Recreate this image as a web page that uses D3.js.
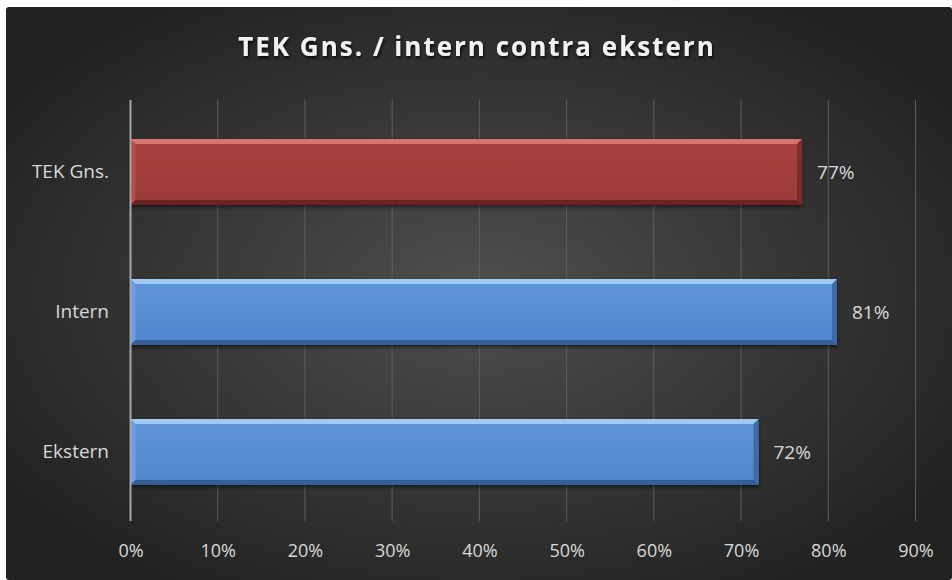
<!DOCTYPE html>
<html>
<head>
<meta charset="utf-8">
<script src="https://cdn.jsdelivr.net/npm/d3@7"></script>
<style>
  html, body { margin: 0; padding: 0; background: #fff; }
  svg { display: block; }
</style>
</head>
<body>
<div id="chart"></div>
<script>
// data
var categories = ["TEK Gns.", "Intern", "Ekstern"];
var values = [0.77, 0.81, 0.72];
var barKinds = ["red", "blue", "blue"];
var tickValues = [0, 0.1, 0.2, 0.3, 0.4, 0.5, 0.6, 0.7, 0.8, 0.9];
var title = "TEK Gns. / intern contra ekstern";

var W = 952, H = 580;
var font = "'Open Sans', 'Noto Sans', sans-serif";

var palette = {
  red:  { faceTop: "#a84241", faceBot: "#9b3a39", top: "#d47470", left: "#b34e4d", right: "#7c2b2a", bottom: "#6d2423" },
  blue: { faceTop: "#6196d8", faceBot: "#4f86cc", top: "#a2c8f4", left: "#6e9fdc", right: "#3e6ba8", bottom: "#345d96" }
};

var svg = d3.select("#chart").append("svg")
  .attr("width", W).attr("height", H);

var defs = svg.append("defs");
var bg = defs.append("radialGradient").attr("id", "bg")
  .attr("cx", "50%").attr("cy", "50%").attr("r", "60%");
bg.append("stop").attr("offset", "0%").attr("stop-color", "#4f4f4f");
bg.append("stop").attr("offset", "100%").attr("stop-color", "#222");

Object.keys(palette).forEach(function(k) {
  var lg = defs.append("linearGradient").attr("id", "face-" + k)
    .attr("x1", 0).attr("y1", 0).attr("x2", 0).attr("y2", 1);
  lg.append("stop").attr("offset", "0%").attr("stop-color", palette[k].faceTop);
  lg.append("stop").attr("offset", "100%").attr("stop-color", palette[k].faceBot);
});

var sh = defs.append("filter").attr("id", "shadow")
  .attr("x", "-10%").attr("y", "-30%").attr("width", "120%").attr("height", "160%");
sh.append("feDropShadow").attr("dx", 1).attr("dy", 2).attr("stdDeviation", 1.5)
  .attr("flood-color", "#000").attr("flood-opacity", 0.8);

var barSh = defs.append("filter").attr("id", "barshadow")
  .attr("x", "-5%").attr("y", "-20%").attr("width", "110%").attr("height", "140%");
barSh.append("feDropShadow").attr("dx", 0).attr("dy", 2).attr("stdDeviation", 2)
  .attr("flood-color", "#000").attr("flood-opacity", 0.6);

// background panel
svg.append("rect")
  .attr("x", 6).attr("y", 7).attr("width", W - 6).attr("height", H - 7)
  .attr("rx", 3)
  .attr("fill", "url(#bg)");

// title
svg.append("text")
  .attr("x", 477).attr("y", 56)
  .attr("text-anchor", "middle")
  .attr("fill", "#f2f2f2")
  .attr("font-family", font)
  .attr("font-weight", "bold")
  .attr("font-size", 26)
  .attr("letter-spacing", 2)
  .attr("filter", "url(#shadow)")
  .text(title);

// scales
var x = d3.scaleLinear().domain([0, 0.9]).range([130.5, 915.5]);
var y = d3.scaleBand().domain(categories).range([102, 522]).paddingInner(0.53).paddingOuter(0.265);

// gridlines
svg.append("g")
  .selectAll("line")
  .data(tickValues.slice(1))
  .enter().append("line")
    .attr("x1", function(d) { return x(d); })
    .attr("x2", function(d) { return x(d); })
    .attr("y1", 100).attr("y2", 521)
    .attr("stroke", "#5e5e5e")
    .attr("stroke-width", 1);

// x axis labels
var xAxis = d3.axisBottom(x)
  .tickValues(tickValues)
  .tickSize(0)
  .tickPadding(0)
  .tickFormat(d3.format(".0%"));

var ax = svg.append("g")
  .attr("transform", "translate(0,544)")
  .call(xAxis);
ax.select(".domain").remove();
ax.selectAll("text")
  .attr("fill", "#d9d9d9")
  .attr("font-family", font)
  .attr("font-size", 18)
  .attr("dy", "0.7em");

// y axis labels
var yAxis = d3.axisLeft(y).tickSize(0).tickPadding(0);
var ay = svg.append("g")
  .attr("transform", "translate(109,0)")
  .call(yAxis);
ay.select(".domain").remove();
ay.selectAll("text")
  .attr("fill", "#d9d9d9")
  .attr("font-family", font)
  .attr("font-size", 19);

// bars with bevel
var bev = 5;
var bars = svg.append("g").selectAll("g.bar")
  .data(categories)
  .enter().append("g")
    .attr("class", "bar")
    .attr("filter", "url(#barshadow)");

bars.each(function(c, i) {
  var g = d3.select(this);
  var k = barKinds[i];
  var p = palette[k];
  var x0 = x(0), x1 = x(values[i]);
  var y0 = y(c), y1 = y(c) + y.bandwidth();
  g.append("rect")
    .attr("x", x0).attr("y", y0)
    .attr("width", x1 - x0).attr("height", y1 - y0)
    .attr("fill", "url(#face-" + k + ")");
  var pts = function(a) { return a.map(function(q) { return q.join(","); }).join(" "); };
  g.append("polygon").attr("fill", p.top)
    .attr("points", pts([[x0, y0], [x1, y0], [x1 - bev, y0 + bev], [x0 + bev, y0 + bev]]));
  g.append("polygon").attr("fill", p.left)
    .attr("points", pts([[x0, y0], [x0 + bev, y0 + bev], [x0 + bev, y1 - bev], [x0, y1]]));
  g.append("polygon").attr("fill", p.right)
    .attr("points", pts([[x1, y0], [x1, y1], [x1 - bev, y1 - bev], [x1 - bev, y0 + bev]]));
  g.append("polygon").attr("fill", p.bottom)
    .attr("points", pts([[x0, y1], [x0 + bev, y1 - bev], [x1 - bev, y1 - bev], [x1, y1]]));
});

// zero axis line
svg.append("line")
  .attr("x1", x(0)).attr("x2", x(0))
  .attr("y1", 100).attr("y2", 521)
  .attr("stroke", "#a6a6a6")
  .attr("stroke-width", 2);

// value labels
svg.append("g").selectAll("text")
  .data(categories)
  .enter().append("text")
    .attr("x", function(d, i) { return x(values[i]) + 15; })
    .attr("y", function(d) { return y(d) + y.bandwidth() / 2; })
    .attr("dy", "0.35em")
    .attr("fill", "#d9d9d9")
    .attr("font-family", font)
    .attr("font-size", 19)
    .text(function(d, i) { return d3.format(".0%")(values[i]); });
</script>
</body>
</html>
